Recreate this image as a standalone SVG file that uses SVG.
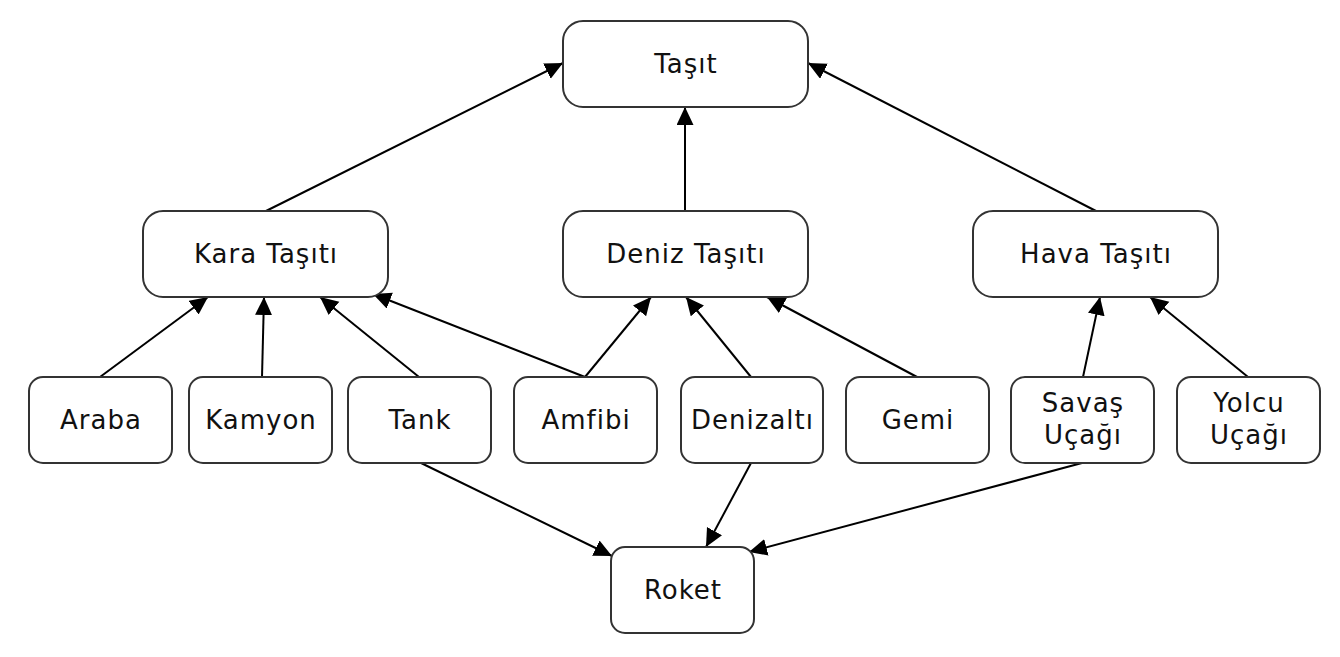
<svg xmlns="http://www.w3.org/2000/svg" width="1340" height="657" viewBox="0 0 1340 657">
<defs>
<marker id="ah" markerUnits="userSpaceOnUse" markerWidth="20" markerHeight="18" refX="18" refY="8.5" orient="auto">
<path d="M0,0 L18,8.5 L0,17 z" fill="#000"/>
</marker>
<style>
.n rect{fill:#fff;stroke:#333;stroke-width:2}
.n text{font-family:"DejaVu Sans",Verdana,sans-serif;font-size:26px;letter-spacing:1px;fill:#111;text-anchor:middle}
#edges line{stroke:#000;stroke-width:2;marker-end:url(#ah)}
</style>
</defs>
<rect width="1340" height="657" fill="#fff"/>
<g id="edges">
<line x1="266" y1="211" x2="563" y2="63"/>
<line x1="685" y1="211" x2="685" y2="107"/>
<line x1="1096" y1="211" x2="808" y2="63"/>
<line x1="100" y1="377" x2="208" y2="297"/>
<line x1="262" y1="377" x2="264" y2="297"/>
<line x1="419" y1="377" x2="320" y2="297"/>
<line x1="585" y1="377" x2="373" y2="294"/>
<line x1="585" y1="377" x2="651" y2="297"/>
<line x1="751" y1="377" x2="686" y2="297"/>
<line x1="917" y1="377" x2="767" y2="297"/>
<line x1="1083" y1="377" x2="1100" y2="297"/>
<line x1="1248" y1="377" x2="1150" y2="297"/>
<line x1="419" y1="462" x2="612" y2="556"/>
<line x1="751" y1="463" x2="706" y2="547"/>
<line x1="1082" y1="463" x2="749" y2="552"/>
</g>
<g id="tasit" class="n"><rect x="563" y="21" width="245" height="86" rx="20"/><text x="686" y="73">Taşıt</text></g>
<g id="kara" class="n"><rect x="143" y="211" width="245" height="86" rx="20"/><text x="266" y="263">Kara Taşıtı</text></g>
<g id="deniz" class="n"><rect x="563" y="211" width="245" height="86" rx="20"/><text x="686" y="263">Deniz Taşıtı</text></g>
<g id="hava" class="n"><rect x="973" y="211" width="245" height="86" rx="20"/><text x="1096" y="263">Hava Taşıtı</text></g>
<g id="araba" class="n"><rect x="29" y="377" width="143" height="86" rx="14"/><text x="101" y="429">Araba</text></g>
<g id="kamyon" class="n"><rect x="189" y="377" width="143" height="86" rx="14"/><text x="261" y="429">Kamyon</text></g>
<g id="tank" class="n"><rect x="348" y="377" width="143" height="86" rx="14"/><text x="420" y="429">Tank</text></g>
<g id="amfibi" class="n"><rect x="514" y="377" width="143" height="86" rx="14"/><text x="586" y="429">Amfibi</text></g>
<g id="denizalti" class="n"><rect x="681" y="377" width="142" height="86" rx="14"/><text x="752.5" y="429">Denizaltı</text></g>
<g id="gemi" class="n"><rect x="846" y="377" width="143" height="86" rx="14"/><text x="918" y="429">Gemi</text></g>
<g id="savas" class="n"><rect x="1011" y="377" width="143" height="86" rx="14"/><text x="1083" y="412">Savaş</text><text x="1083" y="444">Uçağı</text></g>
<g id="yolcu" class="n"><rect x="1177" y="377" width="143" height="86" rx="14"/><text x="1249" y="412">Yolcu</text><text x="1249" y="444">Uçağı</text></g>
<g id="roket" class="n"><rect x="611" y="547" width="143" height="86" rx="14"/><text x="683" y="599">Roket</text></g>
</svg>
